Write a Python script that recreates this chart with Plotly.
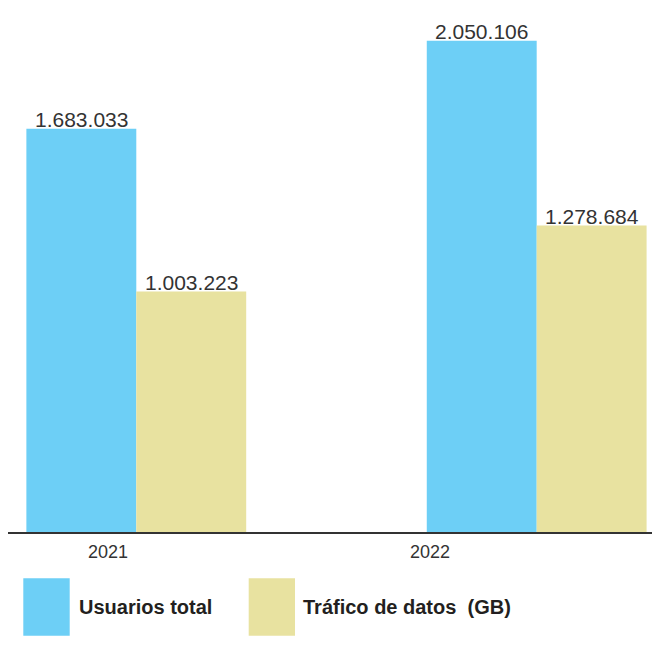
import plotly.graph_objects as go

# Data
years = ["2021", "2022"]
usuarios_total = [1683033, 2050106]
trafico_datos_gb = [1003223, 1278684]
series_names = ["Usuarios total", "Tráfico de datos  (GB)"]
series_colors = ["#6DCFF6", "#E8E2A0"]

W, H = 652, 654
ML, MR, MT, MB = 8, 0, 0, 122
PW, PH = W - ML - MR, H - MT - MB

FONT = "Liberation Sans, Arial, Helvetica, sans-serif"
TXT = "#333333"


def fmt(v):
    return f"{v:,}".replace(",", ".")


def px_x(px):
    return (px - ML) / PW


def px_y(py):
    return (H - MB - py) / PH


xs = list(range(len(years)))
fig = go.Figure()
for name, vals, col in zip(series_names, [usuarios_total, trafico_datos_gb], series_colors):
    fig.add_trace(go.Bar(x=xs, y=vals, name=name, marker=dict(color=col, line=dict(width=0)),
                         showlegend=False))

annotations = []
# value labels above each bar
bar_w = (1 - 0.451) / 2
for s, vals in enumerate([usuarios_total, trafico_datos_gb]):
    for i, v in enumerate(vals):
        annotations.append(dict(x=i + (s - 0.5) * bar_w, y=v, xref="x", yref="y",
                                text=fmt(v), showarrow=False, yanchor="bottom", yshift=-4,
                                font=dict(family=FONT, size=21, color=TXT)))

# year labels under the axis
for i, yr in enumerate(years):
    annotations.append(dict(x=i - 0.0707 - 0.195 * i, y=px_y(551.5), xref="x", yref="paper",
                            text=yr, showarrow=False, yanchor="middle",
                            font=dict(family=FONT, size=18, color=TXT)))

# legend: swatches and labels
shapes = []
legend_items = [(23.3, 69.7, 76.7), (248.7, 295.0, 301.0)]
for (x0, x1, tx), name, col in zip(legend_items, series_names, series_colors):
    shapes.append(dict(type="rect", xref="paper", yref="paper",
                       x0=px_x(x0), x1=px_x(x1), y0=px_y(635.7), y1=px_y(578.3),
                       fillcolor=col, line=dict(width=0)))
    annotations.append(dict(x=px_x(tx), y=px_y(607), xref="paper", yref="paper",
                            text=f"<b>{name}</b>", showarrow=False, xanchor="left",
                            yanchor="middle",
                            font=dict(family=FONT, size=20, color="#231F20")))

fig.update_layout(
    width=W, height=H,
    margin=dict(l=ML, r=MR, t=MT, b=MB),
    paper_bgcolor="white", plot_bgcolor="white",
    barmode="group", bargap=0.451, bargroupgap=0,
    xaxis=dict(range=[-0.3204, 1.288], showticklabels=False, ticks="", showgrid=False,
               zeroline=False, showline=True, linecolor="#333333", linewidth=1.5),
    yaxis=dict(range=[0, 2.22e6], visible=False, showgrid=False, zeroline=False),
    annotations=annotations, shapes=shapes,
)

fig.write_html("out.html")
